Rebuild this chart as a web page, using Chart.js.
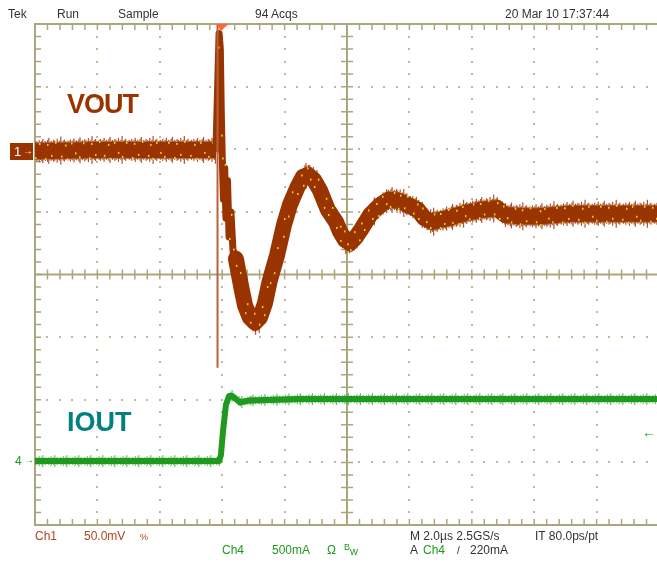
<!DOCTYPE html>
<html>
<head>
<meta charset="utf-8">
<script src="https://cdn.jsdelivr.net/npm/chart.js@4"></script>
<style>
  html, body { margin: 0; padding: 0; background: #fff; overflow: hidden; }
  #wrap { position: relative; width: 657px; height: 563px; overflow: hidden; }
  canvas { position: absolute; left: 0; top: 0; }
  .t { position: absolute; font-family: "Liberation Sans", Arial, sans-serif; font-size: 12px; line-height: 12px; white-space: nowrap; color: #333; }
  .ch1 { color: #b0441c; }
  .ch4 { color: #1f9a1f; }
  .big { font-size: 27px; line-height: 27px; font-weight: bold; }
</style>
</head>
<body>
<div id="wrap">
  <canvas id="scope" width="661" height="563"></canvas>

  <div class="t" style="left:8px; top:8px;">Tek</div>
  <div class="t" style="left:57px; top:8px;">Run</div>
  <div class="t" style="left:118px; top:8px;">Sample</div>
  <div class="t" style="left:255px; top:8px;">94 Acqs</div>
  <div class="t" style="left:505px; top:8px;">20 Mar 10 17:37:44</div>

  <div class="t big" style="left:67px; top:91px; color:#993300; letter-spacing:-1px;">VOUT</div>
  <div class="t big" style="left:67px; top:409px; color:#008080;">IOUT</div>

  <div style="position:absolute; left:10px; top:143px; width:23px; height:17px; background:#993300;"></div>
  <div class="t" style="left:14px; top:146px; color:#fff; font-size:13px;">1</div>
  <div class="t" style="left:23px; top:145px; color:#fff; font-size:10px;">&rarr;</div>
  <div class="t ch4" style="left:15px; top:455px;">4</div>
  <div class="t ch4" style="left:24px; top:454px; font-size:10px;">&rarr;</div>
  <div class="t ch4" style="left:642px; top:425px; font-size:14px; line-height:14px; font-weight:bold;">&larr;</div>

  <div class="t ch1" style="left:35px; top:530px;">Ch1</div>
  <div class="t ch1" style="left:84px; top:530px;">50.0mV</div>
  <div class="t ch1" style="left:140px; top:531px; font-size:9px;">%</div>
  <div class="t" style="left:410px; top:530px;">M 2.0&micro;s 2.5GS/s</div>
  <div class="t" style="left:535px; top:530px;">IT 80.0ps/pt</div>

  <div class="t ch4" style="left:222px; top:544px;">Ch4</div>
  <div class="t ch4" style="left:272px; top:544px;">500mA</div>
  <div class="t ch4" style="left:327px; top:544px;">&Omega;</div>
  <div class="t ch4" style="left:344px; top:541px; font-size:9px;">B</div>
  <div class="t ch4" style="left:350px; top:545px; font-size:11px;">w</div>
  <div class="t" style="left:410px; top:544px;">A</div>
  <div class="t ch4" style="left:423px; top:544px;">Ch4</div>
  <div class="t" style="left:457px; top:545px; font-size:10px;">/</div>
  <div class="t" style="left:470px; top:544px;">220mA</div>
</div>

<script>
// time axis in microseconds (2 us/div, 10 div), level axis in screen divisions (8 div)
const timeTicks = [0, 2, 4, 6, 8, 10, 12, 14, 16, 18, 20];
const levelTicks = [-4, -3, -2, -1, 0, 1, 2, 3, 4];
const triggerTime = 5.95;

// Ch1 VOUT before the load step
const voutPreTime = [0, 2.08, 3.69, 5.80];
const voutPreLevel = [1.97, 1.99, 1.99, 1.99];

// Ch1 VOUT at the edge (narrow, messy)
const voutEdgeTime = [5.80, 5.87, 5.90, 5.94, 5.97, 6.00, 6.04, 6.08, 6.12, 6.17, 6.22, 6.28, 6.35, 6.44];
const voutEdgeLevel = [1.99, 3.3, 3.85, 3.6, 2.6, 1.9, 1.2, 1.7, 0.9, 1.5, 0.6, 1.0, 0.35, 0.25];

// Ch1 VOUT ringing and settling
const voutTime = [6.44, 6.63, 6.73, 6.89, 7.05, 7.21, 7.37, 7.53, 7.76, 7.98,
  8.17, 8.40, 8.59, 8.75, 8.94, 9.13, 9.39, 9.65, 9.78, 9.94,
  10.10, 10.26, 10.48, 10.74, 11.06, 11.31, 11.57, 11.86, 12.28, 12.47,
  12.72, 12.98, 13.37, 13.78, 14.26, 14.81, 15.06, 15.54, 16.19, 17.15,
  18.11, 19.07, 20];
const voutLevel = [0.25, -0.25, -0.49, -0.69, -0.77, -0.69, -0.46, -0.09, 0.31, 0.79,
  1.11, 1.38, 1.56, 1.59, 1.51, 1.35, 1.03, 0.84, 0.68, 0.55,
  0.50, 0.58, 0.74, 0.95, 1.11, 1.19, 1.19, 1.13, 1.03, 0.90,
  0.84, 0.87, 0.92, 0.98, 1.03, 1.06, 0.95, 0.93, 0.93, 0.97,
  0.97, 0.97, 0.97];

// narrow ringing spike at the switching edge
const spikeTime = [5.85, 5.85];
const spikeLevel = [4.0, -1.49];

// Ch4 IOUT trace
const ioutTime = [0, 5.90, 5.96, 6.03, 6.12, 6.22, 6.31, 6.44, 6.57, 6.89, 8.49, 11.70, 14.90, 20];
const ioutLevel = [-2.98, -2.98, -2.88, -2.48, -2.08, -1.94, -1.94, -1.99, -2.04, -2.01, -1.99, -1.99, -1.99, -1.99];

const toPoints = (xs, ys) => xs.map((x, i) => ({ x: x, y: ys[i] }));

const gratColor = "#aba77d";
const dotColor = "#bdb994";

// fixed texture patterns for the trace noise (styling only)
const fringeVout = [9, 10, 9, 11, 9, 10, 12, 9, 10, 9, 11, 13, 9, 10, 9, 11, 10, 9, 12, 9, 10, 14, 9, 10, 11, 9];
const fringeIout = [3, 4, 3, 5, 3, 4, 6, 3, 4, 3];
const speckVout = [7, 0, -7, 0, 0, 8, -6, 0, 5, 0, -8, 0, 0, 6, 0, -5, 9, 0, -7, 0, 3, 0];

function eachColumn(pts, step, fn) {
  let k = 0;
  for (let i = 1; i < pts.length; i++) {
    const a = pts[i - 1], b = pts[i];
    const dx = b.x - a.x;
    if (dx < 1) { fn(a.x, (a.y + b.y) / 2, k++); continue; }
    for (let px = a.x; px < b.x; px += step) {
      fn(px, a.y + (b.y - a.y) * (px - a.x) / dx, k++);
    }
  }
}

function clipArea(chart) {
  const a = chart.chartArea;
  chart.ctx.beginPath();
  chart.ctx.rect(a.left, a.top, a.right - a.left, a.bottom - a.top);
  chart.ctx.clip();
}

const graticule = {
  id: "graticule",
  beforeDatasetsDraw(chart) {
    const { ctx, scales: { x, y } } = chart;
    const left = x.getPixelForValue(timeTicks[0]);
    const right = x.getPixelForValue(timeTicks[timeTicks.length - 1]);
    const top = y.getPixelForValue(levelTicks[levelTicks.length - 1]);
    const bottom = y.getPixelForValue(levelTicks[0]);
    const cx = x.getPixelForValue(10);
    const cy = y.getPixelForValue(0);
    ctx.save();

    // dotted grid
    ctx.fillStyle = dotColor;
    timeTicks.slice(1, -1).forEach((t) => {
      if (t === 10) return;
      const px = Math.round(x.getPixelForValue(t));
      for (let v = -4; v <= 4.001; v += 0.2) {
        ctx.fillRect(px - 1, Math.round(y.getPixelForValue(v)) - 1, 2, 2);
      }
    });
    levelTicks.slice(1, -1).forEach((v) => {
      if (v === 0) return;
      const py = Math.round(y.getPixelForValue(v));
      for (let t = 0; t <= 20.001; t += 0.4) {
        ctx.fillRect(Math.round(x.getPixelForValue(t)) - 1, py - 1, 2, 2);
      }
    });

    ctx.strokeStyle = gratColor;
    ctx.lineWidth = 2;
    ctx.strokeRect(left, top, right - left, bottom - top);
    ctx.beginPath();
    ctx.moveTo(cx, top); ctx.lineTo(cx, bottom);
    ctx.moveTo(left, cy); ctx.lineTo(right, cy);
    ctx.stroke();

    // minor ticks
    ctx.lineWidth = 1.5;
    ctx.beginPath();
    for (let t = 0.4; t < 20; t += 0.4) {
      const px = x.getPixelForValue(t);
      ctx.moveTo(px, top); ctx.lineTo(px, top + 6);
      ctx.moveTo(px, bottom); ctx.lineTo(px, bottom - 6);
      ctx.moveTo(px, cy - 5); ctx.lineTo(px, cy + 5);
    }
    for (let v = -3.8; v < 4; v += 0.2) {
      const py = y.getPixelForValue(v);
      ctx.moveTo(left, py); ctx.lineTo(left + 6, py);
      ctx.moveTo(cx - 6, py); ctx.lineTo(cx + 6, py);
    }
    ctx.stroke();
    ctx.restore();
  },
  beforeDatasetDraw(chart, args) {
    const ds = chart.data.datasets[args.index];
    if (!ds.fringe) return;
    const { ctx } = chart;
    ctx.save();
    clipArea(chart);
    ctx.fillStyle = ds.fringeColor;
    eachColumn(args.meta.data, 1.2, (px, py, k) => {
      const h = ds.fringe[k % ds.fringe.length];
      ctx.fillRect(px, py - h, 1.2, 2 * h);
    });
    ctx.restore();
  },
  afterDatasetDraw(chart, args) {
    const ds = chart.data.datasets[args.index];
    if (!ds.speck) return;
    const { ctx } = chart;
    ctx.save();
    clipArea(chart);
    ctx.fillStyle = "#eedd00";
    eachColumn(args.meta.data, 2, (px, py, k) => {
      const off = ds.speck[k % ds.speck.length];
      if (off) ctx.fillRect(px, py + off - 1, 1.5, 2);
    });
    ctx.restore();
  },
  afterDatasetsDraw(chart) {
    const { ctx, scales: { x, y } } = chart;
    const px = x.getPixelForValue(triggerTime);
    const top = y.getPixelForValue(4);
    ctx.save();
    ctx.fillStyle = "#f8693a";
    ctx.beginPath();
    ctx.moveTo(px - 4, top);
    ctx.lineTo(px + 8, top);
    ctx.lineTo(px, top + 7);
    ctx.closePath();
    ctx.fill();
    ctx.restore();
  },
};

new Chart(document.getElementById("scope"), {
  type: "line",
  data: {
    datasets: [
      {
        label: "spike",
        data: toPoints(spikeTime, spikeLevel),
        borderColor: "#b9603c",
        borderWidth: 2,
      },
      {
        label: "VOUT edge",
        data: toPoints(voutEdgeTime, voutEdgeLevel),
        borderColor: "#993300",
        borderWidth: 7,
        borderJoinStyle: "round",
        borderCapStyle: "round",
        speck: [3, 0, -3, 0, 0, 2],
      },
      {
        label: "VOUT pre",
        data: toPoints(voutPreTime, voutPreLevel),
        borderColor: "#993300",
        borderWidth: 16,
        fringe: fringeVout,
        fringeColor: "rgba(158,55,15,0.85)",
        speck: speckVout,
      },
      {
        label: "VOUT",
        data: toPoints(voutTime, voutLevel),
        borderColor: "#993300",
        borderWidth: 16,
        borderJoinStyle: "round",
        borderCapStyle: "round",
        fringe: fringeVout,
        fringeColor: "rgba(158,55,15,0.85)",
        speck: speckVout,
      },
      {
        label: "IOUT",
        data: toPoints(ioutTime, ioutLevel),
        borderColor: "#1f9a1f",
        borderWidth: 6,
        borderJoinStyle: "round",
        fringe: fringeIout,
        fringeColor: "rgba(40,165,40,0.7)",
      },
    ],
  },
  options: {
    responsive: false,
    animation: false,
    devicePixelRatio: 1,
    layout: { padding: { left: 35, top: 24, right: 2, bottom: 38 } },
    elements: { point: { radius: 0 }, line: { tension: 0 } },
    plugins: { legend: { display: false }, tooltip: { enabled: false } },
    scales: {
      x: { type: "linear", min: 0, max: 20, display: false },
      y: { type: "linear", min: -4, max: 4, display: false },
    },
  },
  plugins: [graticule],
});
</script>
</body>
</html>
